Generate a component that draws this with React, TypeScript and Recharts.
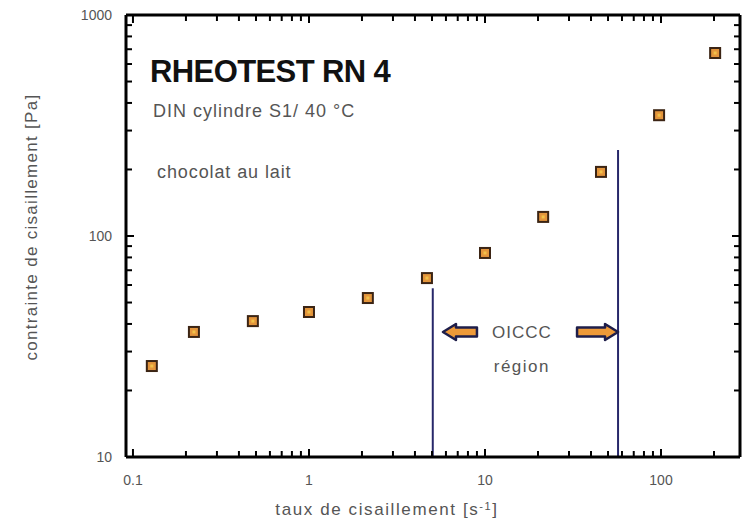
import {
  ScatterChart,
  Scatter,
  XAxis,
  YAxis,
  ReferenceLine,
  ReferenceDot,
} from 'recharts';

// shear rate [s-1] and shear stress [Pa]
const shearRate = [0.128, 0.222, 0.48, 1.0, 2.16, 4.68, 10, 21.4, 45.6, 97.5, 203];
const shearStress = [25.8, 36.8, 41.2, 45.3, 52.4, 64.5, 83.8, 122, 195, 352, 673];

const xTicks = [
  0.1, 0.2, 0.3, 0.4, 0.5, 0.6, 0.7, 0.8, 0.9,
  1, 2, 3, 4, 5, 6, 7, 8, 9,
  10, 20, 30, 40, 50, 60, 70, 80, 90,
  100, 200,
];
const xMajor = [0.1, 1, 10, 100];
const xLabels = ['0.1', '1', '10', '100'];

const yTicks = [
  10, 20, 30, 40, 50, 60, 70, 80, 90,
  100, 200, 300, 400, 500, 600, 700, 800, 900,
  1000,
];
const yMajor = [10, 100, 1000];
const yLabels = ['10', '100', '1000'];

// OICCC region bounds (vertical lines) and their heights
const regionStart = 5.05;
const regionStartTop = 58;
const regionEnd = 57;
const regionEndTop = 245;

const points = shearRate.map((x, i) => ({ x, y: shearStress[i] }));

const FONT = '"Liberation Sans", Arial, sans-serif';
const GREY = '#555';
const NAVY = '#27286a';
const FRAME = { stroke: '#000', strokeWidth: 3 };

function Marker(props: any) {
  const { cx, cy } = props;
  if (cx == null || cy == null) return null;
  return (
    <g>
      <rect x={cx - 5} y={cy - 5} width={10} height={10} fill="#e3953c" stroke="#3b2414" strokeWidth={2} />
      <rect x={cx - 1.5} y={cy - 1.5} width={3} height={3} fill="#f2c24a" />
    </g>
  );
}

function labelFor(v: number, majors: number[], labels: string[]) {
  const i = majors.findIndex(m => Math.abs(m - v) < 1e-9);
  return i >= 0 ? labels[i] : null;
}

function BottomTick(props: any) {
  const { x, y, payload } = props;
  const lab = labelFor(payload.value, xMajor, xLabels);
  const len = lab ? 8 : 6;
  return (
    <g>
      <line x1={x} y1={y} x2={x} y2={y - len} stroke="#000" strokeWidth={2} />
      {lab && (
        <text x={x} y={y + 28} textAnchor="middle" fontSize={14} fill={GREY} fontFamily={FONT}>
          {lab}
        </text>
      )}
    </g>
  );
}

function TopTick(props: any) {
  const { x, y, payload } = props;
  const major = labelFor(payload.value, xMajor, xLabels);
  return <line x1={x} y1={y} x2={x} y2={y + (major ? 8 : 6)} stroke="#000" strokeWidth={2} />;
}

function LeftTick(props: any) {
  const { x, y, payload } = props;
  const lab = labelFor(payload.value, yMajor, yLabels);
  const len = lab ? 8 : 6;
  return (
    <g>
      <line x1={x} y1={y} x2={x + len} y2={y} stroke="#000" strokeWidth={2} />
      {lab && (
        <text x={x - 14} y={y + 5} textAnchor="end" fontSize={14} fill={GREY} fontFamily={FONT}>
          {lab}
        </text>
      )}
    </g>
  );
}

function RightTick(props: any) {
  const { x, y, payload } = props;
  const major = labelFor(payload.value, yMajor, yLabels);
  return <line x1={x} y1={y} x2={x - (major ? 8 : 6)} y2={y} stroke="#000" strokeWidth={2} />;
}

function XTitle(props: any) {
  const { viewBox } = props;
  return (
    <text
      x={viewBox.x + 261}
      y={viewBox.y + 58}
      textAnchor="middle"
      fontSize={17}
      letterSpacing={1.6}
      fill={GREY}
      fontFamily={FONT}
    >
      taux de cisaillement  [s
      <tspan fontSize={11} dy={-5}>-1</tspan>
      <tspan dy={5}>]</tspan>
    </text>
  );
}

function YTitle(props: any) {
  const { viewBox } = props;
  const cx = viewBox.x + 37;
  const cy = viewBox.y + 212;
  return (
    <text
      x={cx}
      y={cy}
      transform={`rotate(-90 ${cx} ${cy})`}
      textAnchor="middle"
      fontSize={17}
      letterSpacing={1.3}
      fill={GREY}
      fontFamily={FONT}
    >
      contrainte de cisaillement  [Pa]
    </text>
  );
}

function textShape(label: string, opts: { size: number; weight?: string; color?: string; anchor?: string; spacing?: number }) {
  return (props: any) => (
    <text
      x={props.cx}
      y={props.cy}
      fontSize={opts.size}
      fontWeight={opts.weight ?? 'normal'}
      fill={opts.color ?? GREY}
      textAnchor={opts.anchor ?? 'start'}
      letterSpacing={opts.spacing ?? 0}
      fontFamily={FONT}
    >
      {label}
    </text>
  );
}

function ArrowLeft(props: any) {
  const { cx, cy } = props;
  const d = `M ${cx} ${cy} L ${cx + 13} ${cy - 8} L ${cx + 13} ${cy - 4.5} L ${cx + 34} ${cy - 4.5} L ${cx + 34} ${cy + 4.5} L ${cx + 13} ${cy + 4.5} L ${cx + 13} ${cy + 8} Z`;
  return <path d={d} fill="#ee9a38" stroke="#1e1e4a" strokeWidth={2.5} strokeLinejoin="round" />;
}

function ArrowRight(props: any) {
  const { cx, cy } = props;
  const d = `M ${cx} ${cy} L ${cx - 13} ${cy - 8} L ${cx - 13} ${cy - 4.5} L ${cx - 41} ${cy - 4.5} L ${cx - 41} ${cy + 4.5} L ${cx - 13} ${cy + 4.5} L ${cx - 13} ${cy + 8} Z`;
  return <path d={d} fill="#ee9a38" stroke="#1e1e4a" strokeWidth={2.5} strokeLinejoin="round" />;
}

export default function App() {
  return (
    <div style={{ position: 'absolute', left: 0, top: 0, width: 745, height: 524, background: '#fff' }}>
      <ScatterChart width={745} height={524} margin={{ top: 14, right: 4, bottom: 0, left: 0 }}>
        <XAxis
          dataKey="x"
          type="number"
          scale="log"
          domain={[0.0913, 281]}
          allowDataOverflow
          ticks={xTicks}
          interval={0}
          height={67}
          tickSize={0}
          tickMargin={0}
          tickLine={false}
          axisLine={FRAME}
          tick={<BottomTick />}
          label={<XTitle />}
        />
        <XAxis
          xAxisId="top"
          orientation="top"
          dataKey="x"
          type="number"
          scale="log"
          domain={[0.0913, 281]}
          allowDataOverflow
          ticks={xTicks}
          interval={0}
          height={1}
          tickSize={0}
          tickMargin={0}
          tickLine={false}
          axisLine={FRAME}
          tick={<TopTick />}
        />
        <YAxis
          dataKey="y"
          type="number"
          scale="log"
          domain={[10, 1000]}
          allowDataOverflow
          ticks={yTicks}
          interval={0}
          width={126}
          tickSize={0}
          tickMargin={0}
          tickLine={false}
          axisLine={FRAME}
          tick={<LeftTick />}
          label={<YTitle />}
        />
        <YAxis
          yAxisId="right"
          orientation="right"
          dataKey="y"
          type="number"
          scale="log"
          domain={[10, 1000]}
          allowDataOverflow
          ticks={yTicks}
          interval={0}
          width={1}
          tickSize={0}
          tickMargin={0}
          tickLine={false}
          axisLine={FRAME}
          tick={<RightTick />}
        />

        <ReferenceLine
          segment={[{ x: regionStart, y: 10 }, { x: regionStart, y: regionStartTop }]}
          stroke={NAVY}
          strokeWidth={2}
        />
        <ReferenceLine
          segment={[{ x: regionEnd, y: 10 }, { x: regionEnd, y: regionEndTop }]}
          stroke={NAVY}
          strokeWidth={2}
        />

        <ReferenceDot x={5.77} y={36.8} r={0} shape={ArrowLeft} />
        <ReferenceDot x={regionEnd} y={36.8} r={0} shape={ArrowRight} />
        <ReferenceDot x={16.2} y={34.5} r={0} shape={textShape('OICCC', { size: 17, anchor: 'middle', spacing: 1 })} />
        <ReferenceDot x={16.2} y={24.3} r={0} shape={textShape('région', { size: 17, anchor: 'middle', spacing: 1.5 })} />

        <ReferenceDot
          x={0.125}
          y={500}
          r={0}
          shape={textShape('RHEOTEST RN 4', { size: 31, weight: 'bold', color: '#111', spacing: -0.6 })}
        />
        <ReferenceDot x={0.13} y={345} r={0} shape={textShape('DIN cylindre S1/ 40 °C', { size: 18, spacing: 1 })} />
        <ReferenceDot x={0.137} y={183} r={0} shape={textShape('chocolat au lait', { size: 18, spacing: 0.9 })} />

        <Scatter data={points} shape={<Marker />} isAnimationActive={false} />
      </ScatterChart>
    </div>
  );
}
